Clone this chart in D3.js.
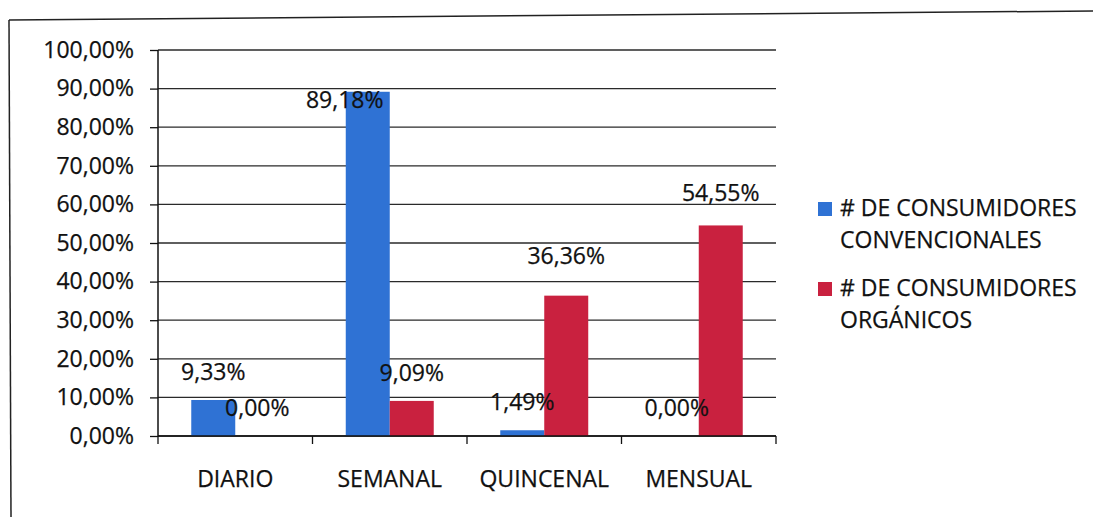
<!DOCTYPE html>
<html><head><meta charset="utf-8">
<script src="https://cdn.jsdelivr.net/npm/d3@7"></script>
<style>
html,body{margin:0;padding:0;background:#fff;}
svg{display:block;font-family:"Open Sans",sans-serif;}
svg text{stroke:#111;stroke-width:0.25px;}
</style></head>
<body><svg id="c" width="1093" height="517"></svg>
<script>
const categories = ["DIARIO","SEMANAL","QUINCENAL","MENSUAL"];
const seriesNames = ["# DE CONSUMIDORES CONVENCIONALES","# DE CONSUMIDORES ORGÁNICOS"];
const legendLines = [["# DE CONSUMIDORES","CONVENCIONALES"],["# DE CONSUMIDORES","ORGÁNICOS"]];
const convencionales = [0.0933, 0.8918, 0.0149, 0.0000];
const organicos = [0.0000, 0.0909, 0.3636, 0.5455];
const yTicks = [0,0.1,0.2,0.3,0.4,0.5,0.6,0.7,0.8,0.9,1.0];
// label nudges (dx, dy) relative to default placement above bar
const labelNudgeConv = [[0,0],[-23,36],[0,0],[0,0]];
const labelNudgeOrg = [[0,0],[0,0],[0,-12],[0,-4]];

const colors = ["#2f72d4","#c9213f"];
const FS = 23;
const svg = d3.select("#c");
const fmt = v => d3.format(".2f")(v*100).replace(".", ",") + "%";

// outer border
svg.append("line").attr("x1",9).attr("y1",20).attr("x2",1093).attr("y2",11).attr("stroke","#222").attr("stroke-width",1.5);
svg.append("line").attr("x1",9).attr("y1",20).attr("x2",11).attr("y2",517).attr("stroke","#222").attr("stroke-width",1.5);

const pLeft=158,pRight=776,pTop=50,pBottom=436;
const y = d3.scaleLinear().domain([0,1]).range([pBottom,pTop]);
const x0 = d3.scaleBand().domain(categories).range([pLeft,pRight]);
const x1 = d3.scaleBand().domain([0,1]).range([0,x0.bandwidth()]).paddingInner(0).paddingOuter(0.756);

// gridlines
svg.append("g").selectAll("line").data(yTicks).join("line")
  .attr("x1",pLeft).attr("x2",pRight).attr("y1",d=>y(d)).attr("y2",d=>y(d))
  .attr("stroke","#2a2a2a").attr("stroke-width",1.3);

// y axis
const yAxis = d3.axisLeft(y).tickValues(yTicks).tickFormat(fmt).tickSize(8).tickPadding(16);
const gy = svg.append("g").attr("transform",`translate(${pLeft},0)`).call(yAxis);
gy.select(".domain").attr("stroke","#111").attr("stroke-width",1.5).attr("d",`M0,${pTop}V${pBottom}`);
gy.selectAll(".tick line").attr("stroke","#111").attr("stroke-width",1.3);
gy.selectAll("text").attr("font-size",FS).attr("fill","#111").attr("font-family","Open Sans");

// bars
const data = [convencionales, organicos];
const g = svg.append("g");
data.forEach((vals,si)=>{
  g.selectAll(".b"+si).data(vals).join("rect")
    .attr("x",(d,i)=>x0(categories[i])+x1(si))
    .attr("width",x1.bandwidth())
    .attr("y",d=>y(d)).attr("height",d=>y(0)-y(d))
    .attr("fill",colors[si]);
});

// x axis
const xAxis = d3.axisBottom(x0).tickSize(0).tickPadding(0);
const gx = svg.append("g").attr("transform",`translate(0,${pBottom})`).call(xAxis);
gx.select(".domain").remove();
gx.append("line").attr("x1",pLeft).attr("x2",pRight).attr("stroke","#111").attr("stroke-width",1.5);
gx.selectAll(".tick line").remove();
gx.selectAll(".sep").data(d3.range(categories.length+1)).join("line")
  .attr("x1",i=>pLeft+i*x0.step()).attr("x2",i=>pLeft+i*x0.step()).attr("y1",0).attr("y2",8)
  .attr("stroke","#111").attr("stroke-width",1.3);
gx.selectAll(".tick text").attr("font-size",FS).attr("fill","#111").attr("font-family","Open Sans")
  .attr("dy",0).attr("y",51);

// data labels
const nudges=[labelNudgeConv,labelNudgeOrg];
data.forEach((vals,si)=>{
  svg.append("g").selectAll("text").data(vals).join("text")
    .attr("x",(d,i)=>x0(categories[i])+x1(si)+x1.bandwidth()/2+nudges[si][i][0])
    .attr("y",(d,i)=>y(d)-20+nudges[si][i][1])
    .attr("text-anchor","middle").attr("font-size",FS).attr("fill","#111")
    .text(d=>fmt(d));
});

// legend
const lg = svg.append("g");
legendLines.forEach((lines,si)=>{
  const by = 216 + si*80;
  lg.append("rect").attr("x",818).attr("y",by-14).attr("width",14).attr("height",14).attr("fill",colors[si]);
  lines.forEach((t,li)=>{
    lg.append("text").attr("x",840).attr("y",by+li*32).attr("font-size",FS).attr("fill","#111").text(t);
  });
});
</script></body></html>
